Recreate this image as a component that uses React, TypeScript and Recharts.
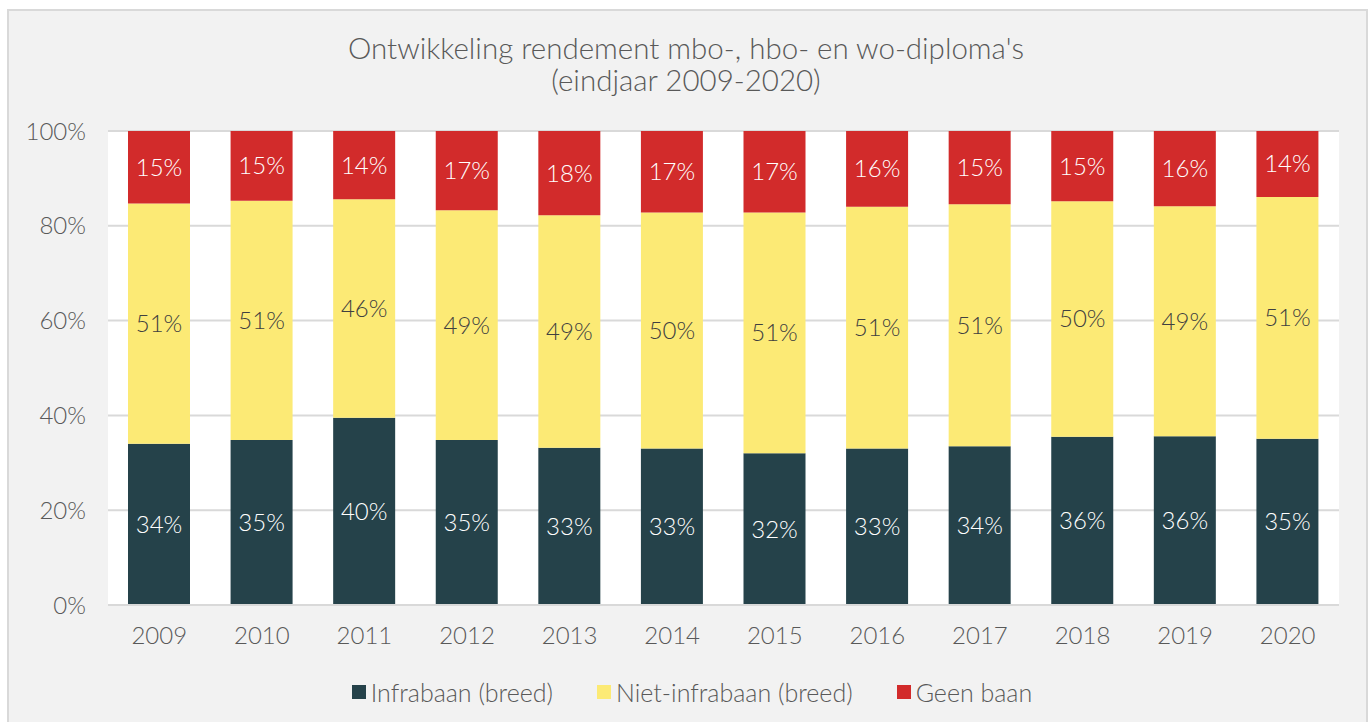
import React from 'react'
import { BarChart, Bar, XAxis, YAxis, CartesianGrid, Legend, LabelList } from 'recharts'

const years = ['2009', '2010', '2011', '2012', '2013', '2014', '2015', '2016', '2017', '2018', '2019', '2020']
const infrabaan = [34.0, 34.8, 39.5, 34.8, 33.2, 33.0, 32.0, 33.0, 33.5, 35.5, 35.6, 35.1]
const nietInfrabaan = [50.7, 50.5, 46.1, 48.5, 49.0, 49.8, 50.8, 51.0, 51.05, 49.7, 48.5, 51.0]
const geenBaan = [15.3, 14.7, 14.4, 16.7, 17.8, 17.2, 17.2, 16.0, 15.45, 14.8, 15.9, 13.9]
const yTicks = [0, 20, 40, 60, 80, 100]

const SERIES = [
  { key: 'infra', name: 'Infrabaan (breed)', color: '#25424a', label: '#ffffff' },
  { key: 'niet', name: 'Niet-infrabaan (breed)', color: '#fcea75', label: '#404040' },
  { key: 'geen', name: 'Geen baan', color: '#d22b2b', label: '#ffffff' },
]

const data = years.map((year, i) => ({
  year,
  infra: infrabaan[i],
  niet: nietInfrabaan[i],
  geen: geenBaan[i],
}))

const FONT = 'Lato, "Open Sans", sans-serif'

function LegendRow() {
  return (
    <div style={{ display: 'flex', justifyContent: 'center', alignItems: 'center', gap: 44, height: 40, fontFamily: FONT, fontWeight: 300, fontSize: 25, color: '#595959' }}>
      {SERIES.map((s) => (
        <div key={s.key} style={{ display: 'flex', alignItems: 'center', gap: 5 }}>
          <span style={{ width: 14, height: 14, background: s.color, display: 'inline-block' }} />
          <span>{s.name}</span>
        </div>
      ))}
    </div>
  )
}

export default function App() {
  return (
    <div style={{ position: 'fixed', left: 0, top: 0, width: 1370, height: 722, background: '#fff', overflow: 'hidden' }}>
      <div
        style={{
          position: 'absolute',
          left: 7,
          top: 9,
          width: 1357,
          height: 730,
          background: '#f2f2f2',
          border: '2px solid #d9d9d9',
        }}
      />
      <div
        style={{
          position: 'absolute',
          left: 0,
          top: 32,
          width: 1372,
          textAlign: 'center',
          fontFamily: FONT,
          fontWeight: 300,
          fontSize: 29.5,
          lineHeight: '32px',
          color: '#595959',
        }}
      >
        Ontwikkeling rendement mbo-, hbo- en wo-diploma's
        <br />
        (eindjaar 2009-2020)
      </div>
      <div style={{ position: 'absolute', left: 0, top: 0 }}>
        <BarChart width={1370} height={722} data={data} margin={{ top: 131, right: 31, bottom: 10, left: 0 }}>
          <CartesianGrid vertical={false} stroke="#d9d9d9" strokeWidth={2} fill="#ffffff" />
          <XAxis
            dataKey="year"
            height={67}
            tickLine={false}
            axisLine={{ stroke: '#d9d9d9', strokeWidth: 2 }}
            tickSize={0}
            tickMargin={22}
            tick={{ fill: '#595959', fontSize: 24, fontFamily: FONT, fontWeight: 300 }}
          />
          <YAxis
            width={108}
            domain={[0, 100]}
            ticks={yTicks}
            tickFormatter={(v: number) => `${v}%`}
            axisLine={false}
            tickLine={false}
            tickSize={0}
            tickMargin={22}
            tick={{ fill: '#595959', fontSize: 24, fontFamily: FONT, fontWeight: 300 }}
          />
          <Legend verticalAlign="bottom" height={40} wrapperStyle={{ left: 14, width: 1356 }} content={() => <LegendRow />} />
          {SERIES.map((s) => (
            <Bar key={s.key} dataKey={s.key} name={s.name} stackId="a" fill={s.color} barSize={62} isAnimationActive={false}>
              <LabelList
                dataKey={s.key}
                position="center"
                formatter={(v: number) => `${Math.round(v)}%`}
                style={{ fill: s.label, fontSize: 24, fontFamily: FONT, fontWeight: 300 }}
              />
            </Bar>
          ))}
        </BarChart>
      </div>
    </div>
  )
}
